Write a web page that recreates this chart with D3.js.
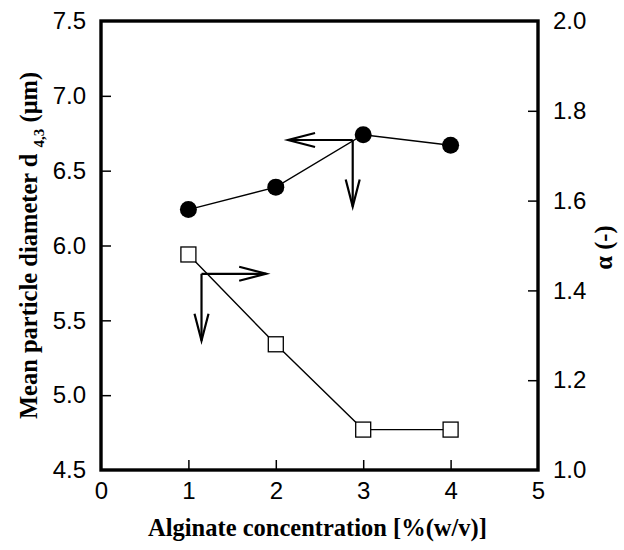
<!DOCTYPE html>
<html><head><meta charset="utf-8">
<script src="https://cdn.jsdelivr.net/npm/d3@7"></script>
<style>body{margin:0;background:#fff}</style>
</head><body>
<svg id="chart" width="624" height="550"></svg>
<script>
// ---- data ----
const concentrations = [1, 2, 3, 4];
const meanDiameter = [6.24, 6.39, 6.74, 6.67];   // left axis, filled circles
const alphaValues = [1.48, 1.28, 1.09, 1.09];    // right axis, open squares
const xTicks = [0, 1, 2, 3, 4, 5];
const yLeftTicks = [4.5, 5.0, 5.5, 6.0, 6.5, 7.0, 7.5];
const yRightTicks = [1.0, 1.2, 1.4, 1.6, 1.8, 2.0];
// arrow annotations (data units): origin, and end point
const circleArrow = {x: 2.88, y: 6.705, toX: 2.14, toY: 6.26};     // left-axis units
const squareArrow = {x: 1.15, y: 1.437, toX: 1.89, toY: 1.288};    // right-axis units

const svg = d3.select("#chart");
const L = 101, R = 538, T = 21, B = 470;
const x = d3.scaleLinear().domain([0, 5]).range([L, R]);
const yL = d3.scaleLinear().domain([4.5, 7.5]).range([B, T]);
const yR = d3.scaleLinear().domain([1.0, 2.0]).range([B, T]);

const tickFont = "'Liberation Sans', Arial, sans-serif";
const labelFont = "'Liberation Serif', 'Times New Roman', serif";

// axes (inner ticks)
const gB = svg.append("g").attr("transform", `translate(0,${B})`)
  .call(d3.axisBottom(x).tickValues(xTicks).tickSize(-10).tickPadding(12).tickFormat(d3.format("d")));
const gL = svg.append("g").attr("transform", `translate(${L},0)`)
  .call(d3.axisLeft(yL).tickValues(yLeftTicks).tickSize(-10).tickPadding(15).tickFormat(d3.format(".1f")));
const gR = svg.append("g").attr("transform", `translate(${R},0)`)
  .call(d3.axisRight(yR).tickValues(yRightTicks).tickSize(-10).tickPadding(15).tickFormat(d3.format(".1f")));
[gB, gL, gR].forEach(g => {
  g.select(".domain").remove();
  g.selectAll(".tick line").attr("stroke", "#000").attr("stroke-width", 1.5);
  g.selectAll(".tick text").attr("font-family", tickFont).attr("font-size", 24).attr("fill", "#000");
});
// hide ticks at frame corners
gL.selectAll(".tick").filter(d => d === 4.5 || d === 7.5).select("line").remove();
gR.selectAll(".tick").filter(d => d === 1.0 || d === 2.0).select("line").remove();
gB.selectAll(".tick").filter(d => d === 0 || d === 5).select("line").remove();

// frame
svg.append("rect").attr("x", L).attr("y", T).attr("width", R - L).attr("height", B - T)
  .attr("fill", "none").attr("stroke", "#000").attr("stroke-width", 3.4);

// circle series
const circ = concentrations.map((c, i) => ({x: c, y: meanDiameter[i]}));
svg.append("path").datum(circ)
  .attr("d", d3.line().x(d => x(d.x)).y(d => yL(d.y)))
  .attr("fill", "none").attr("stroke", "#000").attr("stroke-width", 1.4);
svg.selectAll("circle.pt").data(circ).enter().append("circle")
  .attr("cx", d => x(d.x)).attr("cy", d => yL(d.y)).attr("r", 8.5).attr("fill", "#000");

// square series
const sq = concentrations.map((c, i) => ({x: c, y: alphaValues[i]}));
svg.append("path").datum(sq)
  .attr("d", d3.line().x(d => x(d.x)).y(d => yR(d.y)))
  .attr("fill", "none").attr("stroke", "#000").attr("stroke-width", 1.4);
const s = 15;
svg.selectAll("rect.sq").data(sq).enter().append("rect")
  .attr("x", d => x(d.x) - s / 2).attr("y", d => yR(d.y) - s / 2)
  .attr("width", s).attr("height", s).attr("fill", "#fff").attr("stroke", "#000").attr("stroke-width", 1.3);

// arrows
function arrow(x1, y1, x2, y2) {
  const ang = Math.atan2(y2 - y1, x2 - x1);
  const len = 27, hw = 7;
  const bx = x2 - len * Math.cos(ang), by = y2 - len * Math.sin(ang);
  const px = -Math.sin(ang) * hw, py = Math.cos(ang) * hw;
  svg.append("line").attr("x1", x1).attr("y1", y1).attr("x2", x2).attr("y2", y2)
    .attr("stroke", "#000").attr("stroke-width", 2.2);
  svg.append("path").attr("d", `M${bx + px},${by + py}L${x2},${y2}L${bx - px},${by - py}`)
    .attr("fill", "none").attr("stroke", "#000").attr("stroke-width", 2.2);
}
arrow(x(circleArrow.x), yL(circleArrow.y), x(circleArrow.toX), yL(circleArrow.y));
arrow(x(circleArrow.x), yL(circleArrow.y), x(circleArrow.x), yL(circleArrow.toY));
arrow(x(squareArrow.x), yR(squareArrow.y), x(squareArrow.toX), yR(squareArrow.y));
arrow(x(squareArrow.x), yR(squareArrow.y), x(squareArrow.x), yR(squareArrow.toY));

// axis titles
svg.append("text").attr("x", (L + R) / 2 - 2).attr("y", 536).attr("text-anchor", "middle")
  .attr("font-family", labelFont).attr("font-weight", "bold").attr("font-size", 24.5)
  .text("Alginate concentration [%(w/v)]");

const lt = svg.append("text").attr("transform", `translate(37,${(T + B) / 2}) rotate(-90)`)
  .attr("text-anchor", "middle").attr("font-family", labelFont).attr("font-weight", "bold").attr("font-size", 24.5);
lt.append("tspan").text("Mean particle diameter d ");
lt.append("tspan").attr("font-size", 15).attr("dy", 7).text(" 4,3");
lt.append("tspan").attr("dy", -7).text(" (μm)");

svg.append("text").attr("transform", `translate(612,${(T + B) / 2 + 2}) rotate(-90)`)
  .attr("text-anchor", "middle").attr("font-family", labelFont).attr("font-weight", "bold").attr("font-size", 24.5)
  .text("α (-)");
</script>
</body></html>
